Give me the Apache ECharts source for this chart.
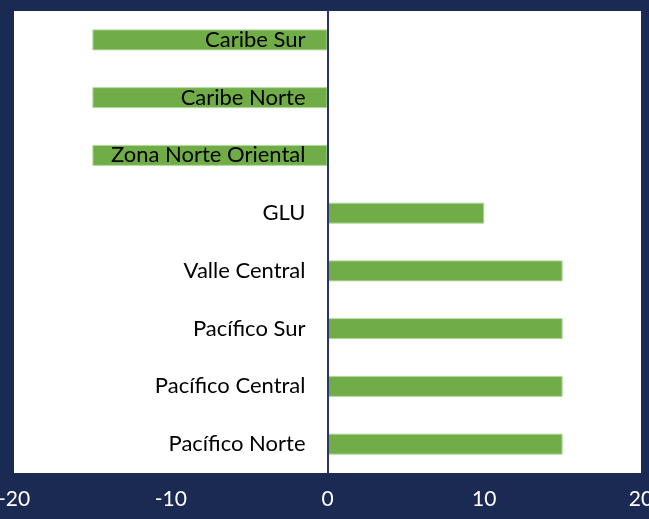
<!DOCTYPE html>
<html><head><meta charset="utf-8">
<script src="https://cdn.jsdelivr.net/npm/echarts@6/dist/echarts.min.js"></script>
<style>html,body{margin:0;padding:0;background:#1b2a52}#c{width:649px;height:519px}</style>
</head><body><div id="c"></div>
<script>
var categories = ['Caribe Sur','Caribe Norte','Zona Norte Oriental','GLU','Valle Central','Pacífico Sur','Pacífico Central','Pacífico Norte'];
var values = [-15,-15,-15,10,15,15,15,15];
var xTicks = [-20,-10,0,10,20];

var gridLeft = 14;
var chart = echarts.init(document.getElementById('c'));
chart.setOption({
  backgroundColor: '#1b2a52',
  animation: false,
  grid: {left: gridLeft, right: 8, top: 11, bottom: 46, show: true, backgroundColor: '#ffffff', borderWidth: 0,
         containLabel: false, outerBoundsMode: 'none'},
  xAxis: {
    type: 'value', min: xTicks[0], max: xTicks[xTicks.length-1], interval: 10,
    axisLine: {show: false}, axisTick: {show: false}, splitLine: {show: false},
    axisLabel: {color: '#ffffff', fontSize: 21, fontFamily: 'Lato', margin: 16, hideOverlap: false}
  },
  yAxis: {
    type: 'category', data: categories, inverse: true, z: 10,
    axisLine: {show: true, onZero: false, lineStyle: {color: '#2b3270', width: 2}},
    axisTick: {show: false},
    axisLabel: {color: '#000000', fontSize: 22, fontFamily: 'Lato', margin: 22}
  },
  series: [{
    type: 'bar', data: values, barWidth: 21,
    itemStyle: {color: '#70ad47', borderColor: '#b5d8a0', borderWidth: 1}
  }]
});
var zeroPx = chart.convertToPixel({xAxisIndex: 0}, 0);
chart.setOption({yAxis: {offset: -(zeroPx - gridLeft)}});
</script></body></html>
